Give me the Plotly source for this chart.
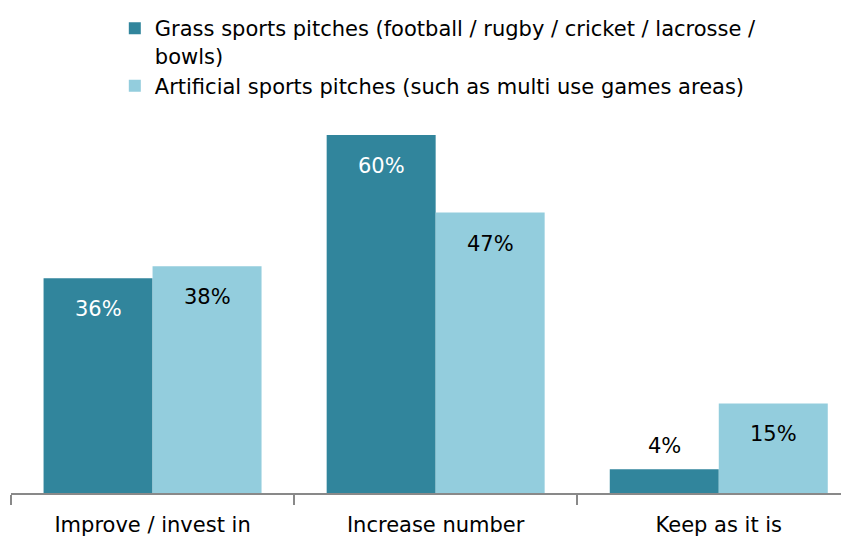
import plotly.graph_objects as go

categories = ["Improve / invest in", "Increase number", "Keep as it is"]
grass = [36, 60, 4]
artificial = [38, 47, 15]
series_names = [
    "Grass sports pitches (football / rugby / cricket / lacrosse /<br>bowls)",
    "Artificial sports pitches (such as multi use games areas)",
]
colors = ["#31859C", "#93CDDD"]
FONT = "DejaVu Sans, sans-serif"
FS = 21

fig = go.Figure()
fig.add_trace(go.Bar(x=categories, y=grass, name=series_names[0],
                     marker=dict(color=colors[0], line=dict(width=0))))
fig.add_trace(go.Bar(x=categories, y=artificial, name=series_names[1],
                     marker=dict(color=colors[1], line=dict(width=0))))

offset = 54.5
annotations = []
for i, c in enumerate(categories):
    for vals, sh, col in ((grass, -offset, "white"), (artificial, offset, "black")):
        v = vals[i]
        inside = v >= 10
        annotations.append(dict(
            x=c, y=v, xref="x", yref="y", text=f"{v}%", showarrow=False,
            xshift=sh, yshift=-17 if inside else 9,
            yanchor="top" if inside else "bottom",
            font=dict(family=FONT, size=FS, color=col if inside else "black"),
        ))

fig.update_layout(
    width=841, height=533,
    margin=dict(l=3, r=0, t=112, b=48, autoexpand=False),
    paper_bgcolor="white", plot_bgcolor="white",
    barmode="group", bargap=0.23, bargroupgap=0,
    font=dict(family=FONT, size=FS, color="black"),
    showlegend=True,
    legend=dict(
        orientation="v", xref="container", yref="container",
        x=0.127, y=1.0, xanchor="left", yanchor="top",
        valign="top", font=dict(family=FONT, size=FS, color="black"),
        bgcolor="rgba(0,0,0,0)", tracegroupgap=0,
    ),
    xaxis=dict(
        range=[-0.5, 2.46], showline=True, linecolor="#898989", linewidth=1.5,
        ticks="outside", tickson="boundaries", ticklen=10, tickcolor="#898989",
        tickwidth=1.5, showgrid=False, tickangle=0, automargin=False,
        ticklabelstandoff=12,
        tickfont=dict(family=FONT, size=FS, color="black"),
        fixedrange=True,
    ),
    yaxis=dict(range=[0, 62.5], visible=False, showgrid=False, fixedrange=True,
               automargin=False),
    annotations=annotations,
)

fig.write_html("out.html")
